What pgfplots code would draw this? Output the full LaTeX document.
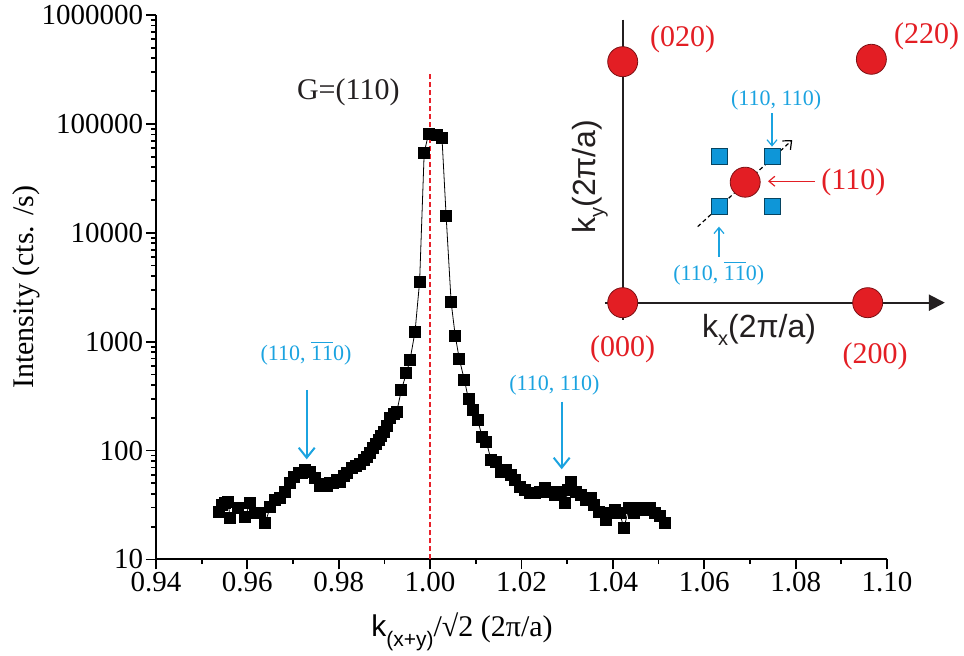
\documentclass[border=0pt]{standalone}
\usepackage{pgfplots}
\pgfplotsset{compat=1.18}
\usepackage{fontspec}
\setmainfont{Liberation Serif}
\newfontfamily\arial{Liberation Sans}
\usetikzlibrary{arrows.meta}
\definecolor{rline}{HTML}{E8202A}
\definecolor{bl}{HTML}{1BA3E0}
\definecolor{ired}{HTML}{E31E24}
\definecolor{iblue}{HTML}{0E96D8}
\definecolor{igray}{HTML}{231F20}
\newcommand\ob{\ensuremath{\overline{\hbox{1}}}}
\begin{document}
\begin{tikzpicture}
\path[use as bounding box] (-78pt,-48.25pt) rectangle (404pt,279.75pt);
\begin{axis}[
  at={(0,0)}, anchor=south west,
  scale only axis, width=365.5pt, height=272.25pt,
  ymode=log, xmin=0.94, xmax=1.10, ymin=10, ymax=1000000,
  axis x line*=bottom, axis y line*=left,
  axis line style={line width=1pt, black},
  tick align=outside,
  major tick length=5pt, minor tick length=2.3pt,
  every tick/.style={black, line width=0.9pt},
  xtick={0.94,0.96,0.98,1.00,1.02,1.04,1.06,1.08,1.10},
  xticklabels={\mbox{0.94},\mbox{0.96},\mbox{0.98},\mbox{1.00},\mbox{1.02},\mbox{1.04},\mbox{1.06},\mbox{1.08},\mbox{1.10}},
  minor xtick={0.95,0.97,0.99,1.01,1.03,1.05,1.07,1.09},
  ytick={10,100,1000,10000,100000,1000000},
  yticklabels={\mbox{10},\mbox{100},\mbox{1000},\mbox{10000},\mbox{100000},\mbox{1000000}},
  minor ytick={20,30,40,50,60,70,80,90,200,300,400,500,600,700,800,900,2000,3000,4000,5000,6000,7000,8000,9000,20000,30000,40000,50000,60000,70000,80000,90000,200000,300000,400000,500000,600000,700000,800000,900000},
  ticklabel style={font=\fontsize{14.5}{16}\selectfont, inner sep=1.2pt},
  ylabel={Intensity (cts. /s)},
  ylabel style={font=\fontsize{15}{18}\selectfont, at={(axis description cs:-0.178,0.5)}, anchor=center},
  xlabel={{\arial k\raisebox{-0.32em}{\fontsize{10.5}{12}\selectfont(x+y)}}/√2 (2π/a)},
  xlabel style={font=\fontsize{15}{18}\selectfont, at={(axis description cs:0.4186,-0.1418)}, anchor=base},
]
\addplot[black, line width=0.4pt, mark=square*, mark size=2.75pt, mark options={solid}] table[header=true] {
x y
0.9538 27.5
0.9545 32
0.9551 33
0.9558 34
0.9562 24
0.9580 29.5
0.9595 24.7
0.9606 33
0.9617 26.5
0.9628 26.5
0.9639 21.5
0.9650 30.5
0.9661 35
0.9672 36.5
0.9683 42
0.9692 50
0.9701 57
0.9712 62
0.9720 63
0.9726 66
0.9737 64
0.9748 56
0.9759 47
0.9767 49
0.9774 47
0.9781 51
0.9788 50
0.9796 54
0.9803 52
0.9811 58
0.9818 62
0.9829 69
0.9838 72
0.9847 76
0.9855 82
0.9862 88
0.9869 96
0.9875 105
0.9881 115
0.9887 125
0.9893 137
0.9898 149
0.9906 170
0.9913 198
0.9920 215
0.9927 227
0.9937 360
0.9948 513
0.9956 680
0.9967 1236
0.9977 3560
0.9987 54500
0.99965 80700
1.0014 80000
1.0026 73800
1.0035 14400
1.0046 2300
1.0055 1130
1.0064 689
1.0075 445
1.0084 296
1.0094 236
1.0104 191
1.0114 134
1.0123 121
1.0133 83
1.0143 79
1.0154 64
1.0165 66
1.0176 60
1.0186 54
1.0197 46.6
1.0208 43.4
1.0219 40.5
1.0230 40.5
1.0241 42
1.0252 45
1.0263 42
1.0274 39
1.0285 42
1.0296 33
1.0302 44
1.0309 51.7
1.0320 42
1.0329 39
1.0340 35.2
1.0351 36.5
1.0358 31.6
1.0369 27.5
1.0384 23.1
1.0395 26.5
1.0405 28.5
1.0415 27
1.0424 19.3
1.0435 29.5
1.0446 26.5
1.0460 29.5
1.0471 28.5
1.0482 29.5
1.0493 26.5
1.0503 25.1
1.0513 21.5
};
\addplot[rline, dash pattern=on 2.5pt off 1.5pt, line width=0.9pt, forget plot] coordinates {(1.0,10) (1.0,290000)};
\node[igray, anchor=base west, font=\fontsize{15}{18}\selectfont] at (rel axis cs:0.1833,0.8439) {G=(110)};
\node[bl, font=\fontsize{11}{13}\selectfont] at (rel axis cs:0.2052,0.3787) {(110, \ob\ob0)};
\draw[bl, line width=1pt, -{Straight Barb[length=5pt,width=8pt]}] (rel axis cs:0.2062,0.3113) -- (rel axis cs:0.2062,0.1840);
\node[bl, font=\fontsize{11}{13}\selectfont] at (rel axis cs:0.5449,0.3205) {(110, 110)};
\draw[bl, line width=1pt, -{Straight Barb[length=5pt,width=8pt]}] (rel axis cs:0.555,0.2898) -- (rel axis cs:0.555,0.1657);
\end{axis}
\begin{axis}[at={(233.35pt,128.4pt)}, anchor=south west, scale only axis,
  width=122.5pt, height=120.5pt, xmin=0, xmax=2, ymin=0, ymax=2, hide axis, clip=false]
\addplot[igray, line width=1pt] coordinates {(0,2.35) (0,-0.14)};
\addplot[igray, line width=1pt, -{Triangle[length=8pt,width=8pt]}] coordinates {(-0.145,0) (2.63,0)};
\addplot[only marks, mark=*, mark size=7.5pt, mark options={fill=ired, draw=ired!55!black, line width=0.4pt}] coordinates {(0,0) (2,0) (0,2) (2.03,2.02) (1,1)};
\addplot[only marks, mark=square*, mark size=4pt, mark options={fill=iblue, draw=iblue!45!black, line width=0.4pt}] coordinates {(0.789,0.797) (1.219,0.797) (0.789,1.212) (1.219,1.212)};
\addplot[black, dash pattern=on 2pt off 1.5pt, line width=0.6pt, -{Straight Barb[length=3.5pt,width=6pt]}] coordinates {(0.612,0.631) (1.384,1.35)};
\draw[bl, line width=0.6pt, -{Straight Barb[length=3pt,width=5pt]}] (axis cs:1.219,1.572) -- (axis cs:1.219,1.295);
\draw[bl, line width=0.6pt, -{Straight Barb[length=3pt,width=5pt]}] (axis cs:0.786,0.382) -- (axis cs:0.786,0.631);
\draw[ired, line width=0.6pt, -{Straight Barb[length=3pt,width=5pt]}] (axis cs:1.57,1.008) -- (axis cs:1.186,1.008);
\node[bl, font=\fontsize{11}{13}\selectfont] at (axis cs:1.252,1.682) {(110, 110)};
\node[bl, font=\fontsize{11}{13}\selectfont] at (axis cs:0.784,0.244) {(110, \ob\ob0)};
\node[ired, font=\fontsize{15}{18}\selectfont] at (axis cs:1.883,1.0) {(110)};
\node[ired, font=\fontsize{15}{18}\selectfont] at (axis cs:0.49,2.186) {(020)};
\node[ired, font=\fontsize{15}{18}\selectfont] at (axis cs:2.48,2.207) {(220)};
\node[ired, font=\fontsize{15}{18}\selectfont] at (axis cs:0,-0.39) {(000)};
\node[ired, font=\fontsize{15}{18}\selectfont] at (axis cs:2.06,-0.448) {(200)};
\node[igray, font={\arial\fontsize{16}{18}\selectfont}] at (axis cs:1.113,-0.227) {k\raisebox{-0.25em}{\fontsize{10}{12}\selectfont x}(2π/a)};
\node[igray, rotate=90, font={\arial\fontsize{16}{18}\selectfont}] at (axis cs:-0.267,1.046) {k\raisebox{-0.25em}{\fontsize{10}{12}\selectfont y}(2π/a)};
\end{axis}
\end{tikzpicture}
\end{document}
